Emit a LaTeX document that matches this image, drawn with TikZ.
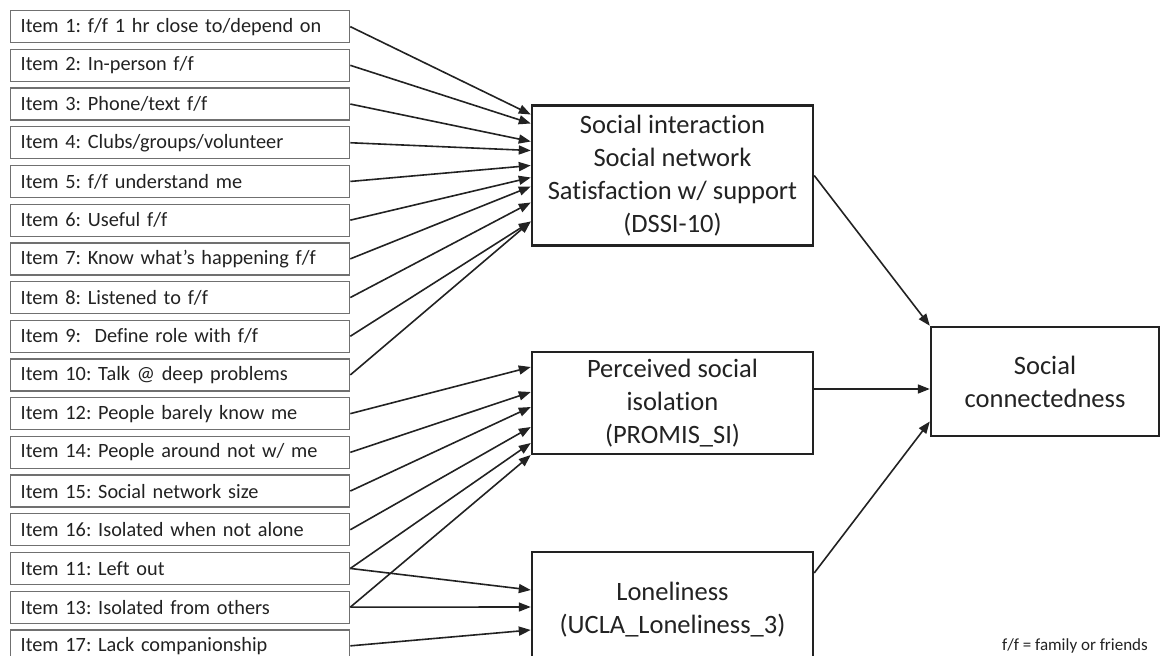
\documentclass[tikz,border=0pt]{standalone}
\usepackage{fontspec}
\setmainfont{Carlito}[Ligatures=NoCommon]
\frenchspacing
\usetikzlibrary{arrows.meta,positioning}
\definecolor{itemgray}{HTML}{707070}
\definecolor{boxblack}{HTML}{222222}

\begin{document}
\begin{tikzpicture}[x=1pt,y=-1pt,text=boxblack,
	itembox/.style={draw=itemgray,line width=1.3pt,minimum height=32pt,text width=319pt,inner xsep=10pt,inner ysep=0pt,align=left,anchor=north west,font=\fontsize{20.3}{23}\selectfont},
	scalebox/.style={draw=boxblack,line width=2.4pt,minimum width=281pt,align=center,font=\fontsize{26.5}{33}\selectfont},
	arr/.style={draw=boxblack,line width=1.6pt,-{Triangle[length=12pt,width=9pt]}}]
	\useasboundingbox (0,0) rectangle (1160,656);

	% items
	\foreach \t [count=\n] in {{Item 1: f/f 1 hr close to/depend on},{Item 2: In-person f/f},{Item 3: Phone/text f/f},
		{Item 4: Clubs/groups/volunteer},{Item 5: f/f understand me},{Item 6: Useful f/f},{Item 7: Know what’s happening f/f},
		{Item 8: Listened to f/f},{Item 9:~ Define role with f/f},{Item 10: Talk @ deep problems},{Item 12: People barely know me},
		{Item 14: People around not w/ me},{Item 15: Social network size},{Item 16: Isolated when not alone},{Item 11: Left out},
		{Item 13: Isolated from others},{Item 17: Lack companionship}}
		\node[itembox] (N\n) at (10,{10+38.7*(\n-1)}) {\t};

	% scales
	\node[scalebox,minimum height=140pt] (dssi) at (672.5,175.5) {Social interaction\\Social network\\Satisfaction w/ support\\(DSSI-10)};
	\node[scalebox,minimum height=102pt] (promis) at (672.5,403) {Perceived social\\isolation\\(PROMIS\_SI)};
	\node[scalebox,minimum height=116pt] (lone) at (672.5,610) {Loneliness\\(UCLA\_Loneliness\_3)};
	\node[scalebox,minimum width=228pt,minimum height=109pt] (sc) at (1045,381.5) {Social\\connectedness};
	\node[font=\fontsize{17}{20}\selectfont,anchor=base east,inner sep=0pt] (note) at (1148,650) {f/f = family or friends};

	% paths
	\foreach \n/\s in {1/61,2/52,3/34,4/25,5/10,6/-2,7/-11,8/-27,9/-46,10/-46}
		\draw[arr] (N\n.east) -- ([yshift=\s pt]dssi.west);
	\foreach \n/\s in {11/36,12/11,13/-4,14/-24,15/-40,16/-52}
		\draw[arr] (N\n.east) -- ([yshift=\s pt]promis.west);
	\foreach \n/\s in {15/20,16/3,17/-20}
		\draw[arr] (N\n.east) -- ([yshift=\s pt]lone.west);

	\draw[arr] (dssi.east) -- (sc.north west);
	\draw[arr] ([yshift=14pt]promis.east) -- ([yshift=-7.5pt]sc.west);
	\draw[arr] ([yshift=37pt]lone.east) -- ([yshift=-40pt]sc.west);
\end{tikzpicture}
\end{document}
